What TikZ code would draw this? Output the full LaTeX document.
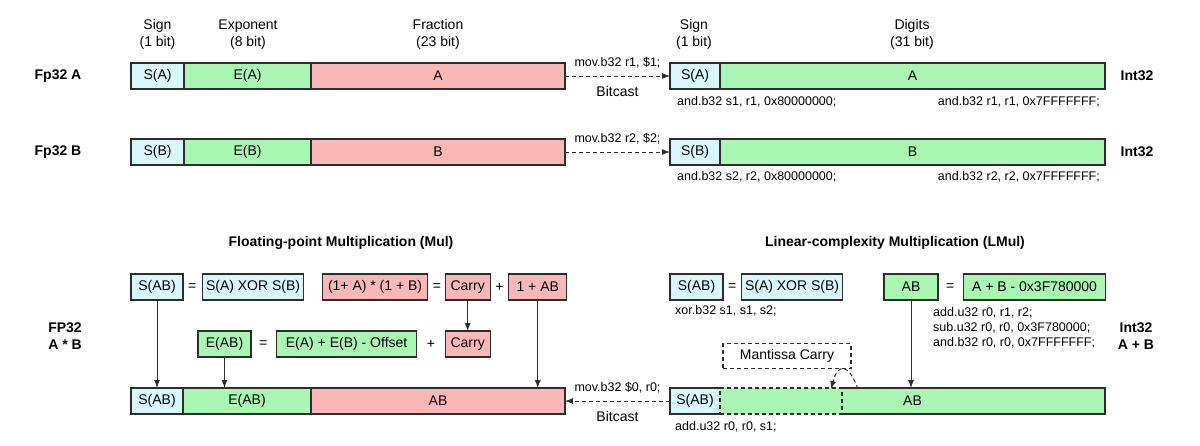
\documentclass[tikz,border=0pt]{standalone}
\usepackage{fontspec}
\setmainfont{Liberation Sans}
\usetikzlibrary{arrows.meta,positioning}
\definecolor{signblue}{RGB}{217,246,250}
\definecolor{expgreen}{RGB}{168,246,178}
\definecolor{fracpink}{RGB}{250,183,183}
\definecolor{edge}{RGB}{45,45,45}
\newcommand{\boxfont}{\fontsize{14}{17}\selectfont}
\newcommand{\codefont}{\fontsize{12.5}{15}\selectfont}
\tikzset{
  field/.style={draw=edge, line width=1.1pt, minimum height=26pt, inner sep=0pt, outer sep=0pt, font=\boxfont},
  sgn/.style={field, fill=signblue},
  expo/.style={field, fill=expgreen},
  frac/.style={field, fill=fracpink},
  head/.style={font=\boxfont, align=center},
  code/.style={font=\codefont, inner sep=0pt},
  tag/.style={font=\boxfont\bfseries, align=center},
  op/.style={font=\boxfont, inner sep=0pt},
  link/.style={draw=edge, line width=1pt, -{Latex[length=8pt,width=6pt]}},
  cast/.style={link, dash pattern=on 4pt off 3pt}
}

\begin{document}
\begin{tikzpicture}[x=1pt, y=-1pt]
  \useasboundingbox (0,0) rectangle (1200,445);

  % field headers
  \node[head] (hsign) at (157.5,34.5) {Sign\\(1 bit)};
  \node[head] (hexp) at (248,34.5) {Exponent\\(8 bit)};
  \node[head] (hfrac) at (438,34.5) {Fraction\\(23 bit)};
  \node[head] (hisign) at (694,34.5) {Sign\\(1 bit)};
  \node[head] (hdig) at (912,34.5) {Digits\\(31 bit)};

  % Fp32 A -> Int32
  \node[tag] (fpA) at (58,76) {Fp32 A};
  \node[sgn, minimum width=53pt, anchor=west] (sA) at (131,76) {S(A)};
  \node[expo, minimum width=127pt, right=0pt of sA] (eA) {E(A)};
  \node[frac, minimum width=254pt, right=0pt of eA] (fA) {A};
  \node[sgn, minimum width=50pt, anchor=west] (isA) at (670,76) {S(A)};
  \node[expo, minimum width=385pt, right=0pt of isA] (dA) {A};
  \node[tag] (intA) at (1137,76) {Int32};
  \draw[cast] (fA) -- node[code, above=7pt] (movA) {mov.b32 r1, \$1;}
                      node[op, below=10pt] (castA) {Bitcast} (isA);
  \node[code, anchor=west] (andsA) at (677,102) {and.b32 s1, r1, 0x80000000;};
  \node[code, anchor=east] (andrA) at (1100,102) {and.b32 r1, r1, 0x7FFFFFFF;};

  % Fp32 B -> Int32
  \node[tag] (fpB) at (58,152) {Fp32 B};
  \node[sgn, minimum width=53pt, anchor=west] (sB) at (131,152) {S(B)};
  \node[expo, minimum width=127pt, right=0pt of sB] (eB) {E(B)};
  \node[frac, minimum width=254pt, right=0pt of eB] (fB) {B};
  \node[sgn, minimum width=50pt, anchor=west] (isB) at (670,152) {S(B)};
  \node[expo, minimum width=385pt, right=0pt of isB] (dB) {B};
  \node[tag] (intB) at (1137,152) {Int32};
  \draw[cast] (fB) -- node[code, above=7pt] (movB) {mov.b32 r2, \$2;} (isB);
  \node[code, anchor=west] (andsB) at (677,177) {and.b32 s2, r2, 0x80000000;};
  \node[code, anchor=east] (andrB) at (1100,177) {and.b32 r2, r2, 0x7FFFFFFF;};

  % Mul
  \node[tag] (mulT) at (341,243) {Floating-point Multiplication (Mul)};
  \node[tag] (fpAB) at (65,336.5) {FP32\\A * B};
  \node[sgn, minimum width=52pt, anchor=west] (sABl) at (131,287) {S(AB)};
  \node[op, right=5pt of sABl] (eq1) {=};
  \node[sgn, minimum width=101pt, right=6pt of eq1] (xorl) {S(A) XOR S(B)};
  \node[frac, minimum width=105pt, right=19pt of xorl] (mull) {(1+ A) * (1 + B)};
  \node[op, right=5pt of mull] (eq2) {=};
  \node[frac, minimum width=45pt, right=4pt of eq2] (carryl) {Carry};
  \node[op, right=5pt of carryl] (plus1) {+};
  \node[frac, minimum width=58pt, right=5pt of plus1] (onel) {1 + AB};

  \node[expo, minimum width=53pt, anchor=west] (eABl) at (198,344) {E(AB)};
  \node[op, right=8pt of eABl] (eq3) {=};
  \node[expo, minimum width=140pt, right=9pt of eq3] (suml) {E(A) + E(B) - Offset};
  \node[op, right=10pt of suml] (plus2) {+};
  \node[frac, minimum width=45pt, right=10pt of plus2] (carry2) {Carry};

  \node[sgn, minimum width=52pt, anchor=west] (sABf) at (131,401) {S(AB)};
  \node[expo, minimum width=128pt, right=0pt of sABf] (eABf) {E(AB)};
  \node[frac, minimum width=254pt, right=0pt of eABf] (fABf) {AB};

  \draw[link] (sABl) -- (sABf);
  \draw[link] (eABl) -- (eABl |- eABf.north);
  \draw[link] (carryl) -- (carryl |- carry2.north);
  \draw[link] (onel) -- (onel |- fABf.north);

  % LMul
  \node[tag] (lmulT) at (895,243) {Linear-complexity Multiplication (LMul)};
  \node[tag] (intAB) at (1136,336.5) {Int32\\A + B};
  \node[sgn, minimum width=53pt, anchor=west] (sABr) at (670,287) {S(AB)};
  \node[op, right=5pt of sABr] (eq4) {=};
  \node[sgn, minimum width=101pt, right=5pt of eq4] (xorr) {S(A) XOR S(B)};
  \node[code, anchor=west] (xorc) at (675,311) {xor.b32 s1, s1, s2;};
  \node[expo, minimum width=54pt, anchor=west] (abr) at (884,287) {AB};
  \node[op, right=8pt of abr] (eq5) {=};
  \node[expo, minimum width=142pt, right=9pt of eq5] (sumr) {A + B - 0x3F780000};
  \node[code, anchor=west, align=left] (addc) at (933,328)
    {add.u32 r0, r1, r2;\\sub.u32 r0, r0, 0x3F780000;\\and.b32 r0, r0, 0x7FFFFFFF;};

  \node[sgn, draw=none, minimum width=50pt, anchor=west] (sABi) at (670,401) {S(AB)};
  \node[expo, draw=none, minimum width=385pt, right=0pt of sABi] (dABi) {AB};
  \node[field, dash pattern=on 4pt off 3pt, minimum width=122pt, anchor=west] (mcpart) at (dABi.west) {};
  \draw[edge, line width=1.1pt] (sABi.north east) -- (sABi.north west) -- (sABi.south west) -- (sABi.south east);
  \draw[edge, line width=1.1pt] (mcpart.north east) -- (dABi.north east) -- (dABi.south east) -- (mcpart.south east);
  \node[field, dash pattern=on 4pt off 3pt, minimum width=128pt, minimum height=25pt] (mcbox) at (787,356) {Mantissa Carry};
  \coordinate (mcfrom) at (858,389);
  \coordinate (mcto) at (831,389);
  \draw[cast] (mcfrom) to[out=110, in=75, looseness=2.6] (mcto);

  \draw[link] (abr) -- (abr |- dABi.north);
  \draw[cast] (sABi) -- node[code, above=7pt] (movAB) {mov.b32 \$0, r0;}
                        node[op, below=10pt] (castAB) {Bitcast} (fABf);
  \node[code, anchor=west] (addsc) at (675,427) {add.u32 r0, r0, s1;};
\end{tikzpicture}
\end{document}
